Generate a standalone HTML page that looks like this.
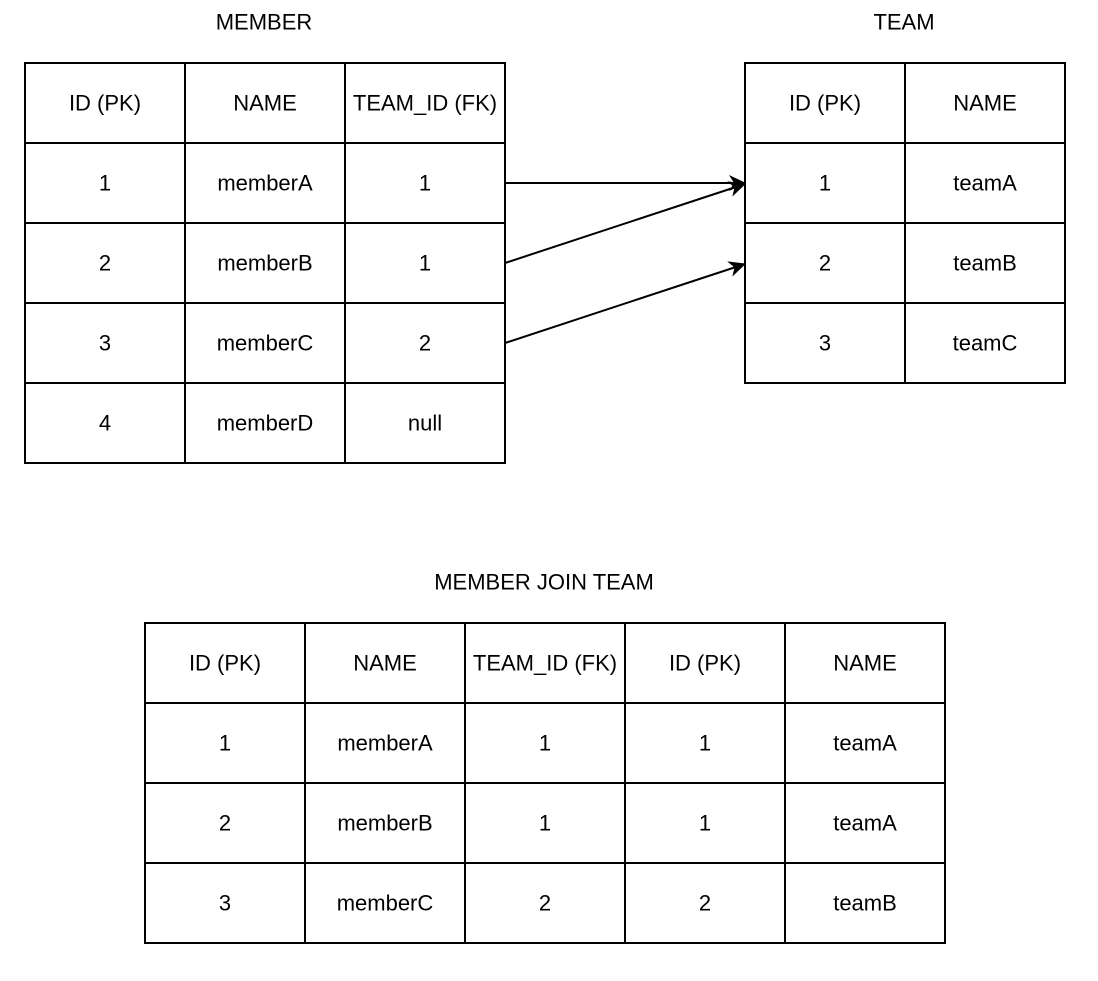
<!DOCTYPE html>
<html><head><meta charset="utf-8"><style>
html,body{margin:0;padding:0;background:#fff;}
svg text{font-family:"Liberation Sans",Arial,sans-serif;font-size:22px;fill:#000;text-anchor:middle;dominant-baseline:central;}
</style></head><body>
<svg width="1098" height="976" viewBox="0 0 1098 976" xmlns="http://www.w3.org/2000/svg">
<defs><marker id="a" markerWidth="18" markerHeight="16" refX="16" refY="8" orient="auto" markerUnits="userSpaceOnUse" viewBox="0 0 18 16"><path d="M0,0 L17,8 L0,16 L5,8 z" fill="#000"/></marker></defs>
<g fill="none" stroke="#000" stroke-width="2">
<rect x="25" y="63" width="480" height="400"/>
<line x1="185" y1="63" x2="185" y2="463"/><line x1="345" y1="63" x2="345" y2="463"/>
<line x1="25" y1="143" x2="505" y2="143"/><line x1="25" y1="223" x2="505" y2="223"/><line x1="25" y1="303" x2="505" y2="303"/><line x1="25" y1="383" x2="505" y2="383"/>
<rect x="745" y="63" width="320" height="320"/>
<line x1="905" y1="63" x2="905" y2="383"/>
<line x1="745" y1="143" x2="1065" y2="143"/><line x1="745" y1="223" x2="1065" y2="223"/><line x1="745" y1="303" x2="1065" y2="303"/>
<rect x="145" y="623" width="800" height="320"/>
<line x1="305" y1="623" x2="305" y2="943"/><line x1="465" y1="623" x2="465" y2="943"/><line x1="625" y1="623" x2="625" y2="943"/><line x1="785" y1="623" x2="785" y2="943"/>
<line x1="145" y1="703" x2="945" y2="703"/><line x1="145" y1="783" x2="945" y2="783"/><line x1="145" y1="863" x2="945" y2="863"/>
<line x1="505" y1="183" x2="745" y2="183" marker-end="url(#a)"/>
<line x1="505" y1="263" x2="745" y2="184" marker-end="url(#a)"/>
<line x1="505" y1="343" x2="745" y2="264" marker-end="url(#a)"/>
</g>
<text x="264" y="22">MEMBER</text>
<text x="904" y="22">TEAM</text>
<text x="544" y="582">MEMBER JOIN TEAM</text>
<text x="105" y="103">ID (PK)</text><text x="265" y="103">NAME</text><text x="425" y="103">TEAM_ID (FK)</text>
<text x="105" y="183">1</text><text x="265" y="183">memberA</text><text x="425" y="183">1</text>
<text x="105" y="263">2</text><text x="265" y="263">memberB</text><text x="425" y="263">1</text>
<text x="105" y="343">3</text><text x="265" y="343">memberC</text><text x="425" y="343">2</text>
<text x="105" y="423">4</text><text x="265" y="423">memberD</text><text x="425" y="423">null</text>
<text x="825" y="103">ID (PK)</text><text x="985" y="103">NAME</text>
<text x="825" y="183">1</text><text x="985" y="183">teamA</text>
<text x="825" y="263">2</text><text x="985" y="263">teamB</text>
<text x="825" y="343">3</text><text x="985" y="343">teamC</text>
<text x="225" y="663">ID (PK)</text><text x="385" y="663">NAME</text><text x="545" y="663">TEAM_ID (FK)</text><text x="705" y="663">ID (PK)</text><text x="865" y="663">NAME</text>
<text x="225" y="743">1</text><text x="385" y="743">memberA</text><text x="545" y="743">1</text><text x="705" y="743">1</text><text x="865" y="743">teamA</text>
<text x="225" y="823">2</text><text x="385" y="823">memberB</text><text x="545" y="823">1</text><text x="705" y="823">1</text><text x="865" y="823">teamA</text>
<text x="225" y="903">3</text><text x="385" y="903">memberC</text><text x="545" y="903">2</text><text x="705" y="903">2</text><text x="865" y="903">teamB</text>
</svg>
</body></html>
